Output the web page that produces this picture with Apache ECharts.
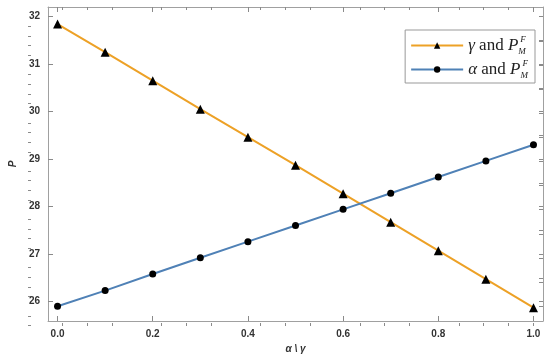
<!DOCTYPE html>
<html><head><meta charset="utf-8">
<script src="https://cdn.jsdelivr.net/npm/echarts@6/dist/echarts.min.js"></script>
<style>html,body{margin:0;padding:0;background:#fff}#c{width:550px;height:359px}</style>
</head><body><div id="c"></div>
<script>
const xValues = [0, 0.1, 0.2, 0.3, 0.4, 0.5, 0.6, 0.7, 0.8, 0.9, 1.0];
const gammaP = [31.84, 31.25, 30.65, 30.05, 29.46, 28.87, 28.27, 27.67, 27.07, 26.47, 25.87];
const alphaP = [25.90, 26.23, 26.58, 26.92, 27.26, 27.60, 27.94, 28.28, 28.62, 28.96, 29.30];
const xMajorTicks = [0, 0.2, 0.4, 0.6, 0.8, 1.0];
const xMinorTicks = [0.05, 0.1, 0.15, 0.25, 0.3, 0.35, 0.45, 0.5, 0.55, 0.65, 0.7, 0.75, 0.85, 0.9, 0.95, 1.0];
const yMajorTicks = [26, 27, 28, 29, 30, 31, 32];
const yMinorTicks = [25.6, 25.8, 26.2, 26.4, 26.6, 26.8, 27.2, 27.4, 27.6, 27.8, 28.2, 28.4, 28.6, 28.8, 29.2, 29.4, 29.6, 29.8, 30.2, 30.4, 30.6, 30.8, 31.2, 31.4, 31.6, 31.8];
const yRightTicks = [26, 26.5, 27, 27.5, 28, 28.5, 29, 29.5, 30, 30.5, 31, 31.5, 32];
const seriesNames = ['γ and P_M^F', 'α and P_M^F'];

const frame = '#a0a0a0';
const tickC = '#8a8a8a';
const xRange = {min: -0.02, max: 1.02};
const yRange = {min: 25.59, max: 32.2};
const labelStyle = {color: '#333', fontWeight: 'bold', fontSize: 10, fontFamily: 'Liberation Sans'};

function xAx(grid, pos, ticks, len, extra) {
  return Object.assign({
    type: 'value', gridIndex: grid, position: pos, min: xRange.min, max: xRange.max,
    splitLine: {show: false},
    axisLine: {show: grid === 0, onZero: false, lineStyle: {color: frame, width: 1}},
    axisTick: {show: true, inside: true, length: len, customValues: ticks, lineStyle: {color: tickC}},
    axisLabel: {show: false}
  }, extra || {});
}
function yAx(grid, pos, ticks, len, extra) {
  return Object.assign({
    type: 'value', gridIndex: grid, position: pos, min: yRange.min, max: yRange.max,
    splitLine: {show: false},
    axisLine: {show: grid === 0, onZero: false, lineStyle: {color: frame, width: 1}},
    axisTick: {show: true, inside: true, length: len, customValues: ticks, lineStyle: {color: tickC}},
    axisLabel: {show: false}
  }, extra || {});
}

const serif = 'Liberation Serif';
const rich = {
  i: {fontFamily: serif, fontStyle: 'italic', fontSize: 17, color: '#222'},
  t: {fontFamily: serif, fontSize: 17, color: '#222'},
  sub: {fontFamily: serif, fontStyle: 'italic', fontSize: 9, color: '#222', verticalAlign: 'bottom', width: 1, padding: [8, 0, 0, 0]},
  sup: {fontFamily: serif, fontStyle: 'italic', fontSize: 9, color: '#222', verticalAlign: 'top', padding: [0, 0, 8, 1]}
};

const gridRect = {left: 28, right: 7, top: 7, bottom: 33};
const chart = echarts.init(document.getElementById('c'), null, {renderer: 'canvas'});
chart.setOption({
  animation: false,
  backgroundColor: '#fff',
  grid: [Object.assign({}, gridRect), Object.assign({}, gridRect)],
  xAxis: [
    xAx(0, 'bottom', xMajorTicks, 5, {
      axisLabel: Object.assign({show: true, customValues: xMajorTicks, margin: 8, formatter: v => v.toFixed(1)}, labelStyle),
      name: 'α \\ γ', nameLocation: 'middle', nameGap: 23,
      nameTextStyle: {fontStyle: 'italic', fontSize: 10, color: '#333', fontFamily: 'Liberation Sans', fontWeight: 'bold'}
    }),
    xAx(0, 'top', xMajorTicks, 5),
    xAx(1, 'bottom', xMinorTicks, 3),
    xAx(1, 'top', xMinorTicks, 3)
  ],
  yAxis: [
    yAx(0, 'left', yMajorTicks, 5, {
      axisLabel: Object.assign({show: true, customValues: yMajorTicks, margin: 8, formatter: v => String(Math.round(v))}, labelStyle),
      name: 'P', nameLocation: 'middle', nameGap: 20, nameRotate: 90,
      nameTextStyle: {fontStyle: 'italic', fontSize: 10, color: '#333', fontFamily: 'Liberation Sans', fontWeight: 'bold'}
    }),
    yAx(0, 'right', yRightTicks, 4),
    yAx(1, 'left', yMinorTicks, 3),
    yAx(1, 'right', yRightTicks, 4)
  ],
  legend: {
    show: true, orient: 'vertical', right: 15, top: 30,
    backgroundColor: '#fff', borderColor: '#999', borderWidth: 1, borderRadius: 0,
    padding: [5, 7, 3, 5], itemGap: 3, itemWidth: 52, itemHeight: 8,
    data: seriesNames,
    formatter: function (name) {
      const g = name.charAt(0);
      return '{i|' + g + '}{t| and }{i|P}{sub|M}{sup|F}';
    },
    textStyle: {rich: rich, lineHeight: 21, fontSize: 17, fontFamily: serif}
  },
  series: [
    {
      name: seriesNames[0], type: 'line', xAxisIndex: 0, yAxisIndex: 0,
      data: xValues.map((x, i) => [x, gammaP[i]]),
      symbol: 'triangle', symbolSize: 9,
      itemStyle: {color: '#000'},
      lineStyle: {color: '#EDA126', width: 2},
      z: 3
    },
    {
      name: seriesNames[1], type: 'line', xAxisIndex: 0, yAxisIndex: 0,
      data: xValues.map((x, i) => [x, alphaP[i]]),
      symbol: 'circle', symbolSize: 7,
      itemStyle: {color: '#000'},
      lineStyle: {color: '#4F81B6', width: 2},
      z: 3
    }
  ]
});
</script></body></html>
